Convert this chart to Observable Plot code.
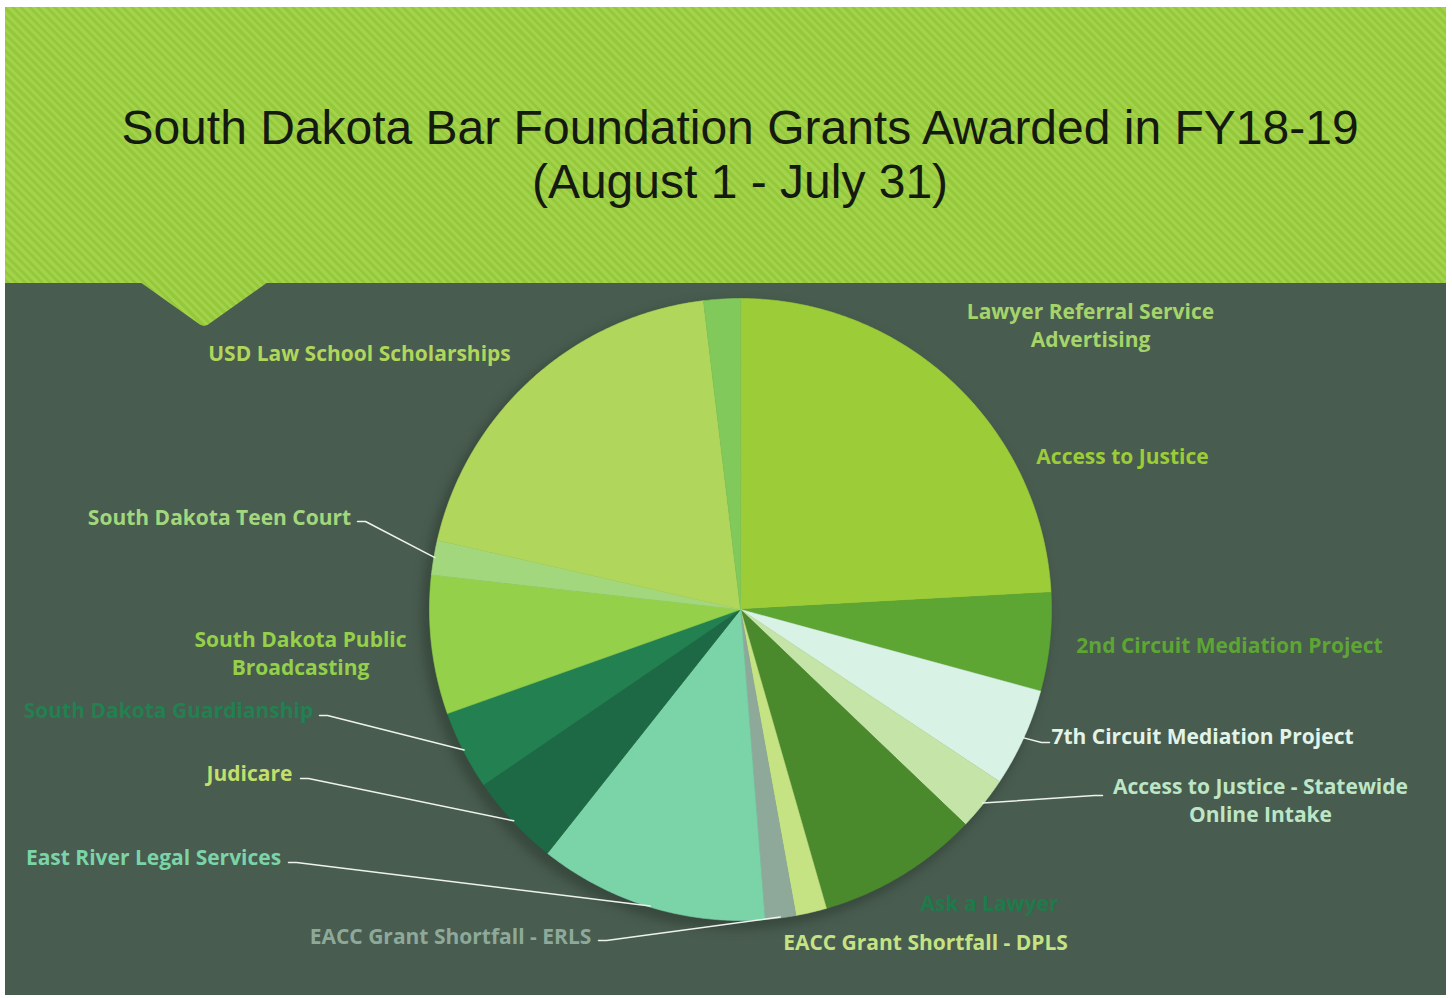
<!DOCTYPE html>
<html>
<head>
<meta charset="utf-8">
<script src="https://cdn.jsdelivr.net/npm/d3@7"></script>
<script src="https://cdn.jsdelivr.net/npm/@observablehq/plot@0.6"></script>
<style>
  html, body { margin: 0; padding: 0; background: #ffffff; }
  #frame { position: absolute; left: 5px; top: 7px; width: 1441px; height: 988px; background: #485c4f; overflow: hidden; }
  .stripes { background: repeating-linear-gradient(45deg, #96c83b 0px, #96c83b 3px, #a3d24b 3px, #a3d24b 6px); background-attachment: fixed; }
  #header { position: absolute; left: 0; top: 0; width: 1441px; height: 276px; }
  #notch { position: absolute; left: 135px; top: 275px; width: 128px; height: 44px; clip-path: polygon(0 0, 100% 0, 53% 97%, 50% 100%, 47% 97%); }
  .tline { position: absolute; left: 0; width: 1470px; text-align: center; font-family: "Century Gothic", "Liberation Sans", Arial, sans-serif; font-size: 48px; line-height: 54px; height: 54px; color: #141a10; font-weight: 400; white-space: nowrap; }
  #t1 { top: 94px; }
  #t2 { top: 148px; }
  #chart { position: absolute; left: 0; top: 276px; }
</style>
</head>
<body>
<div id="frame">
  <div id="header" class="stripes">
    <div id="t1" class="tline">South Dakota Bar Foundation Grants Awarded in FY18-19</div>
    <div id="t2" class="tline">(August 1 - July 31)</div>
  </div>
  <div id="notch" class="stripes"></div>
  <div id="chart"></div>
</div>
<script>
// ---- data (clockwise from 12 o'clock) ----
const grantees = [
  "Access to Justice",
  "2nd Circuit Mediation Project",
  "7th Circuit Mediation Project",
  "Access to Justice - Statewide Online Intake",
  "Ask a Lawyer",
  "EACC Grant Shortfall - DPLS",
  "EACC Grant Shortfall - ERLS",
  "East River Legal Services",
  "Judicare",
  "South Dakota Guardianship",
  "South Dakota Public Broadcasting",
  "South Dakota Teen Court",
  "USD Law School Scholarships",
  "Lawyer Referral Service Advertising"
];
const shares = [24.1, 5.1, 5.1, 2.8, 8.4, 1.6, 1.6, 11.9, 4.8, 4.1, 7.2, 1.8, 19.5, 1.9];
const sliceColors = ["#9ccc38", "#5ea633", "#d9f2e6", "#c4e4a8", "#4b8a2c", "#c6e384", "#8ea99a",
                     "#7bd4a8", "#1d6845", "#228051", "#94d04a", "#a3d77d", "#b0d65c", "#80c95a"];

// ---- label layout (chart units = px, origin at pie centre; y downward) ----
const labelText = [
  "Access to Justice", "2nd Circuit Mediation Project", "7th Circuit Mediation Project",
  "Access to Justice - Statewide\nOnline Intake", "Ask a Lawyer", "EACC Grant Shortfall - DPLS",
  "EACC Grant Shortfall - ERLS", "East River Legal Services", "Judicare", "South Dakota Guardianship",
  "South Dakota Public\nBroadcasting", "South Dakota Teen Court", "USD Law School Scholarships",
  "Lawyer Referral Service\nAdvertising"
];
const labelColors = ["#9ccc38", "#5ea633", "#e2f3e8", "#bde6c6", "#1f7a4b", "#c6e384", "#8ea99a",
                     "#7bd4a8", "#c2df6c", "#228051", "#94d04a", "#a3d77d", "#b0d65c", "#a5d46a"];
const labelAt = [[382, -154], [489, 35], [462, 126], [520, 190], [249, 293], [185, 332],
                 [-290, 326], [-587, 247], [-491, 163], [-572, 100], [-440, 43], [-521, -93],
                 [-381, -257], [350, -285]];
// leader start points (null = no leader)
const leaderFrom = [null, null, [309, 133], [362, 186], null, null,
                    [-142, 331], [-452, 253], [-440, 169], [-421, 106], null, [-383, -88], null, null];

const R = 311;
const cx = 735, cy = 326, W = 1441, H = 712;

const arcs = d3.pie().sort(null).value(d => d)(shares);
const slicePts = [];
arcs.forEach((a, i) => {
  const a0 = a.startAngle, a1 = a.endAngle;
  const n = Math.max(2, Math.ceil((a1 - a0) / (Math.PI / 360)));
  slicePts.push({name: grantees[i], x: 0, y: 0});
  for (let k = 0; k <= n; k++) {
    const t = a0 + (a1 - a0) * k / n;
    slicePts.push({name: grantees[i], x: R * Math.sin(t), y: -R * Math.cos(t)});
  }
});

const leaderPts = [];
arcs.forEach((a, i) => {
  const f = leaderFrom[i];
  if (!f) return;
  const m = (a.startAngle + a.endAngle) / 2;
  const rx = (R - 1) * Math.sin(m), ry = -(R - 1) * Math.cos(m);
  const dir = rx > f[0] ? 1 : -1;
  leaderPts.push({k: i, x: f[0], y: f[1]});
  leaderPts.push({k: i, x: f[0] + dir * 8, y: f[1]});
  leaderPts.push({k: i, x: rx, y: ry});
});

const labelMarks = grantees.map((g, i) => Plot.text([i], {
  x: () => labelAt[i][0], y: () => labelAt[i][1],
  text: () => labelText[i],
  fill: labelColors[i], fontSize: 21, fontWeight: 700, lineHeight: 1.33,
  textAnchor: "middle", lineAnchor: "middle",
  fontFamily: "'Century Gothic', 'Open Sans', sans-serif"
}));

const chart = Plot.plot({
  width: W, height: H,
  margin: 0,
  x: {domain: [-cx, W - cx], range: [0, W], axis: null},
  y: {domain: [-cy, H - cy], range: [0, H], axis: null},
  color: {type: "ordinal", domain: grantees, range: sliceColors},
  style: {background: "transparent", overflow: "visible"},
  marks: [
    Plot.dot([{x: -5, y: 6}], {x: "x", y: "y", r: R + 3, fill: "#34453a", fillOpacity: 0.8, imageFilter: "blur(5px)"}),
    Plot.line(slicePts, {x: "x", y: "y", z: "name", fill: "name", stroke: "name", strokeWidth: 0.6, curve: "linear-closed"}),
    Plot.line(leaderPts, {x: "x", y: "y", z: "k", stroke: "#eef2ee", strokeWidth: 1.5}),
    ...labelMarks
  ]
});
document.getElementById("chart").appendChild(chart);
</script>
</body>
</html>
